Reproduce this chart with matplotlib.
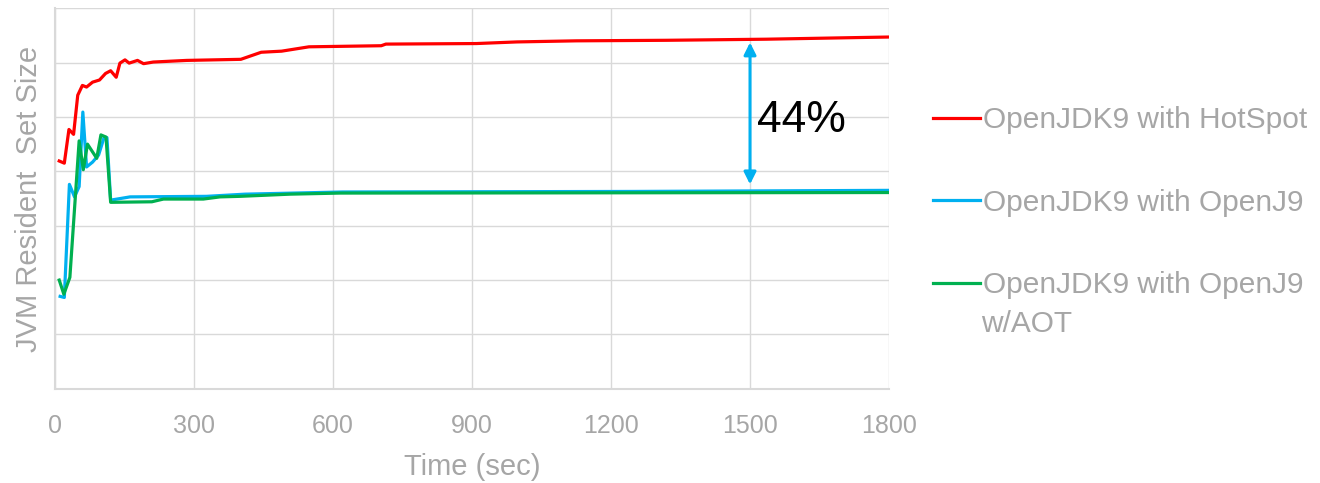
import matplotlib
matplotlib.use('Agg')
from matplotlib import pyplot as plt

plt.rcParams['font.family'] = ['Liberation Sans', 'DejaVu Sans']

# time (sec) and relative RSS (no units on y axis)
hotspot_t = [9, 20, 30, 40, 49, 59, 68, 81, 96, 109, 120, 132, 140, 151, 160,
             178, 191, 212, 284, 401, 445, 489, 548, 704, 714, 909, 997, 1125,
             1320, 1535, 1731, 1800]
hotspot_y = [4.19, 4.15, 4.77, 4.68, 5.40, 5.58, 5.55, 5.64, 5.68, 5.80, 5.85,
             5.73, 5.99, 6.05, 5.99, 6.04, 5.98, 6.01, 6.04, 6.06, 6.19, 6.21,
             6.29, 6.31, 6.34, 6.35, 6.38, 6.40, 6.41, 6.43, 6.46, 6.47]

openj9_t = [11, 20, 31, 42, 52, 60, 68, 81, 94, 106, 112, 120, 162, 327, 410,
            620, 1250, 1800]
openj9_y = [1.70, 1.68, 3.76, 3.53, 3.72, 5.09, 4.08, 4.17, 4.30, 4.63, 4.62,
            3.47, 3.53, 3.54, 3.58, 3.62, 3.63, 3.65]

aot_t = [9, 19, 32, 52, 61, 70, 90, 99, 110, 120, 209, 234, 320, 356, 399,
         507, 615, 1800]
aot_y = [2.00, 1.74, 2.05, 4.56, 4.03, 4.50, 4.24, 4.67, 4.63, 3.43, 3.44,
         3.49, 3.49, 3.53, 3.54, 3.58, 3.60, 3.61]

x_ticks = [0, 300, 600, 900, 1200, 1500, 1800]

# the 44% gap marker
gap_t = 1500
gap_top = 6.37
gap_bottom = 3.76
gap_label = '44%'

gray = '#a6a6a6'
grid = '#d9d9d9'

fig = plt.figure(figsize=(13.2, 4.83), dpi=100)
ax = fig.add_axes([0.0417, 0.195, 0.6318, 0.788])

l1, = ax.plot(hotspot_t, hotspot_y, color='#ff0000', lw=2.3,
              label='OpenJDK9 with HotSpot')
l2, = ax.plot(openj9_t, openj9_y, color='#00b0f0', lw=2.3,
              label='OpenJDK9 with OpenJ9')
l3, = ax.plot(aot_t, aot_y, color='#00b050', lw=2.3,
              label='OpenJDK9 with OpenJ9')

ax.annotate('', xy=(gap_t, gap_top), xytext=(gap_t, gap_bottom),
            arrowprops=dict(arrowstyle='<|-|>', color='#00b0f0', lw=2.2,
                            mutation_scale=18, shrinkA=0, shrinkB=0))
ax.text(gap_t + 15, 4.93, gap_label, fontsize=32, color='black',
        ha='left', va='center')

ax.set_xlim(0, 1800)
ax.set_ylim(0, 7)
ax.set_xticks(x_ticks)
ax.set_yticks(range(0, 8))
ax.set_yticklabels([])
ax.tick_params(length=0, labelsize=18, labelcolor=gray)
ax.tick_params(axis='x', pad=18)
ax.grid(True, color=grid, lw=1)
ax.set_axisbelow(True)
for s in ['top', 'right']:
    ax.spines[s].set_visible(False)
for s in ['left', 'bottom']:
    ax.spines[s].set_color(grid)
    ax.spines[s].set_linewidth(1.5)

ax.set_xlabel('Time (sec)', fontsize=21, color=gray, labelpad=11)
ax.set_ylabel('JVM Resident  Set Size', fontsize=21, color=gray, labelpad=5)

leg = fig.legend(handles=[l1, l2, l3], loc='upper left',
                 bbox_to_anchor=(0.707, 0.78), frameon=False, fontsize=21.5,
                 handlelength=1.55, handletextpad=0.1, labelspacing=1.82,
                 labelcolor=gray, borderaxespad=0, borderpad=0)
fig.text(0.7435, 0.33, 'w/AOT', fontsize=21.5, color=gray, va='center')

plt.savefig('out.png')
